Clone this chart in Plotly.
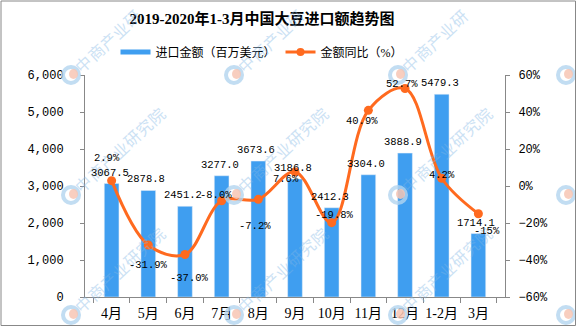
import math
import plotly.graph_objects as go

# ---- data ----
categories = ["4月", "5月", "6月", "7月", "8月", "9月", "10月", "11月", "12月", "1-2月", "3月"]
import_value = [3067.5, 2878.8, 2451.2, 3277.0, 3673.6, 3186.8, 2412.3, 3304.0, 3888.9, 5479.3, 1714.1]
yoy_pct = [2.9, -31.9, -37.0, -8.0, -7.2, 7.6, -19.8, 40.9, 52.7, 4.2, -15]
yoy_text = ["2.9%", "-31.9%", "-37.0%", "-8.0%", "-7.2%", "7.6%", "-19.8%", "40.9%", "52.7%", "4.2%", "-15%"]
bar_text = ["3067.5", "2878.8", "2451.2", "3277.0", "3673.6", "3186.8", "2412.3", "3304.0", "3888.9", "5479.3", "1714.1"]
watermark = "中商产业研究院"

# label offsets (pixels) for percentage labels: (dx, dy) with dy positive = up
pct_offsets = [(-5, 23), (0, -20), (5, -24), (-6, 6), (-3, -27), (-9, -7),
               (3, 8), (-6, -11), (-3, 5), (0, 3), (9, -17)]

W, H = 577, 327
ML, MR, MT, MB = 85, 72, 75, 30
pw, ph = W - ML - MR, H - MT - MB

def px2paper(px, py):
    return (px - ML) / pw, (H - MB - py) / ph

BLUE = "#3f9ef0"
ORANGE = "#ff6a1f"
NUMFONT = "Liberation Mono, DejaVu Sans Mono, monospace"
CJK = "Liberation Serif, Noto Sans CJK SC, serif"

fig = go.Figure()
fig.add_trace(go.Bar(x=categories, y=import_value, marker_color=BLUE, width=0.4,
                     showlegend=False, yaxis="y"))
fig.add_trace(go.Scatter(x=categories, y=yoy_pct, mode="lines+markers", yaxis="y2",
                         line=dict(color=ORANGE, width=3, shape="spline", smoothing=1.0),
                         marker=dict(color=ORANGE, size=9), showlegend=False))
# legend entries
fig.add_trace(go.Scatter(x=[None], y=[None], mode="lines", name="进口金额（百万美元）",
                         line=dict(color=BLUE, width=5)))
fig.add_trace(go.Scatter(x=[None], y=[None], mode="lines+markers", name="金额同比（%）",
                         line=dict(color=ORANGE, width=3), marker=dict(color=ORANGE, size=8)))

annotations = []
shapes = []

# watermarks (drawn first so labels sit on top)
ang = math.radians(43)
dxu, dyu = math.cos(ang), -math.sin(ang)
wm_x = [71, 234, 398, 566]
wm_y = [75, 195, 315]
for ly in wm_y:
    for lx in wm_x:
        for i, ch in enumerate(watermark):
            d = 17 + 16.5 * i
            cx, cy = lx + d * dxu, ly + d * dyu
            if cx > W - 10 or cy < 9:
                continue
            tx, ty = px2paper(cx, cy)
            annotations.append(dict(x=tx, y=ty, xref="paper", yref="paper", text=ch,
                                    xanchor="center", yanchor="middle",
                                    showarrow=False, textangle=-43, opacity=0.4,
                                    font=dict(family="Noto Sans CJK SC", size=16, color="#7fb6e6")))
        x0, y0 = px2paper(lx - 8, ly + 8)
        x1, y1 = px2paper(lx + 8, ly - 8)
        shapes.append(dict(type="circle", xref="paper", yref="paper", x0=x0, y0=y0, x1=x1, y1=y1,
                           line=dict(color="#b3d5f0", width=4), opacity=0.8))
        x0, y0 = px2paper(lx - 2, ly + 4)
        x1, y1 = px2paper(lx + 7, ly - 6)
        shapes.append(dict(type="circle", xref="paper", yref="paper", x0=x0, y0=y0, x1=x1, y1=y1,
                           fillcolor="#f7c6b4", line=dict(width=0), opacity=0.85))

for c, v, t in zip(categories, import_value, bar_text):
    annotations.append(dict(x=c, y=v, xref="x", yref="y", text=t, showarrow=False,
                            yanchor="bottom", yshift=3, xshift=-2,
                            font=dict(family=NUMFONT, size=10.5, color="#000")))
for c, v, t, (dx, dy) in zip(categories, yoy_pct, yoy_text, pct_offsets):
    annotations.append(dict(x=c, y=v, xref="x", yref="y2", text=t, showarrow=False,
                            xshift=dx, yshift=dy,
                            font=dict(family=NUMFONT, size=10.5, color="#000")))

# outer border
x0, y0 = px2paper(1, H - 1.5)
x1, y1 = px2paper(W - 1.5, 1)
shapes.append(dict(type="rect", xref="paper", yref="paper", x0=x0, x1=x1, y0=y0, y1=y1,
                   line=dict(color="#888", width=1)))

fig.update_layout(
    width=W, height=H, margin=dict(l=ML, r=MR, t=MT, b=MB, autoexpand=False),
    paper_bgcolor="white", plot_bgcolor="white",
    title=dict(text="<b>2019-2020年1-3月中国大豆进口额趋势图</b>", x=262 / W, xanchor="center",
               xref="container", y=1 - 19 / H, yanchor="middle", yref="container",
               font=dict(family=CJK, size=15, color="#000")),
    legend=dict(orientation="h", x=262 / W, xanchor="center", xref="container",
                y=1 - 52 / H, yanchor="middle", yref="container",
                font=dict(family=CJK, size=12, color="#000"), itemwidth=30,
                bgcolor="rgba(0,0,0,0)"),
    xaxis=dict(showline=True, linecolor="#888", ticks="outside", tickson="boundaries",
               ticklen=5, tickcolor="#888", tickfont=dict(family=CJK, size=14, color="#000"),
               showgrid=False, tickangle=0, automargin=False, ticklabelstandoff=3),
    yaxis=dict(range=[0, 6000], dtick=1000, tickformat=",", showline=True, linecolor="#888",
               ticks="outside", ticklen=4, tickcolor="#888", showgrid=False, zeroline=False,
               automargin=False, ticklabelstandoff=14,
               tickfont=dict(family=NUMFONT, size=12, color="#000")),
    yaxis2=dict(range=[-60, 60], dtick=20, ticksuffix="%", overlaying="y", side="right",
                showline=True, linecolor="#888", ticks="outside", ticklen=4, tickcolor="#888",
                showgrid=False, zeroline=False, automargin=False, ticklabelstandoff=6,
                tickfont=dict(family=NUMFONT, size=12, color="#000")),
    annotations=annotations, shapes=shapes,
)

fig.write_html("out.html")
